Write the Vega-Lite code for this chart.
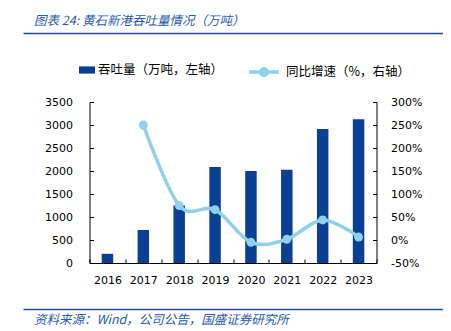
{
  "$schema": "https://vega.github.io/schema/vega-lite/v6.json",
  "padding": {"left": 23, "top": 14, "right": 0, "bottom": 0},
  "background": "white",
  "bounds": "flush",
  "center": true,
  "spacing": 46,
  "config": {
    "font": "DejaVu Sans",
    "view": {"stroke": null},
    "axis": {"labelFont": "DejaVu Sans", "labelFontSize": 11, "labelColor": "#000000", "domainColor": "#000000", "tickColor": "#000000", "grid": false, "title": null}
  },
  "datasets": {
    "port": [
      {"year": "2016", "volume": 200, "growth": null},
      {"year": "2017", "volume": 717, "growth": 250},
      {"year": "2018", "volume": 1254, "growth": 75},
      {"year": "2019", "volume": 2087, "growth": 66},
      {"year": "2020", "volume": 2000, "growth": -5},
      {"year": "2021", "volume": 2028, "growth": 1.5},
      {"year": "2022", "volume": 2913, "growth": 43.6},
      {"year": "2023", "volume": 3124, "growth": 6.5}
    ]
  },
  "vconcat": [
    {
      "width": 420,
      "height": 23,
      "title": {"text": "图表 24: 黄石新港吞吐量情况（万吨）", "anchor": "start", "dx": 11, "offset": 6, "font": "Noto Sans CJK SC", "fontStyle": "italic", "fontSize": 12.5, "fontWeight": "normal", "color": "#2a5aa8"},
      "data": {"values": [{"v": 0}]},
      "mark": {"type": "point", "opacity": 0},
      "encoding": {"x": {"field": "v", "type": "quantitative", "axis": {"orient": "top", "domainColor": "#1f4e96", "domainWidth": 1.5, "ticks": false, "labels": false, "title": null}}}
    },
    {
      "width": 287,
      "height": 161,
      "data": {"name": "port"},
      "encoding": {
        "x": {"field": "year", "type": "ordinal", "scale": {"paddingInner": 0, "paddingOuter": 0},
              "axis": {"labelAngle": 0, "tickBand": "extent", "tickSize": -4, "labelPadding": 15}}
      },
      "layer": [
        {
          "mark": {"type": "bar", "width": {"band": 0.32}},
          "encoding": {
            "y": {"field": "volume", "type": "quantitative", "scale": {"domain": [0, 3500], "nice": false},
                  "axis": {"orient": "left", "values": [0, 500, 1000, 1500, 2000, 2500, 3000, 3500], "format": "d", "labelOverlap": false, "tickSize": -4, "labelPadding": 21}},
            "fill": {"datum": "吞吐量（万吨，左轴）", "scale": {"range": ["#0a3f94"]},
                     "legend": {"orient": "none", "legendX": 56, "legendY": 29, "title": null, "symbolType": "M-1,-0.45H1V0.45H-1Z", "symbolSize": 256, "symbolStrokeWidth": 0, "labelFont": "Noto Sans CJK SC", "labelFontSize": 12.5, "labelColor": "#000000", "labelOffset": 3}}
          }
        },
        {
          "transform": [{"filter": "datum.growth != null"}],
          "encoding": {
            "y": {"field": "growth", "type": "quantitative", "scale": {"domain": [-50, 300], "nice": false},
                  "axis": {"orient": "right", "values": [-50, 0, 50, 100, 150, 200, 250, 300], "labelExpr": "datum.value + '%'", "labelOverlap": false, "labelBound": false, "tickSize": -4, "labelPadding": 18}}
          },
          "layer": [
            {
              "mark": {"type": "line", "interpolate": "cardinal", "strokeWidth": 3.5},
              "encoding": {
                "stroke": {"datum": "同比增速（%，右轴）", "scale": {"range": ["#8fd0ea"]},
                           "legend": {"orient": "none", "legendX": 224, "legendY": 22, "title": null, "symbolType": "M-1,0H1M-0.22,0A0.22,0.22,0,1,1,0.22,0A0.22,0.22,0,1,1,-0.22,0Z", "symbolSize": 900, "symbolStrokeWidth": 3.5, "symbolFillColor": "#8fd0ea", "labelFont": "Noto Sans CJK SC", "labelFontSize": 12.5, "labelColor": "#000000", "labelOffset": 5,
                                      "encode": {"symbols": {"update": {"fill": {"value": "#8fd0ea"}, "strokeWidth": {"value": 3.5}}}}}}
              }
            },
            {
              "mark": {"type": "circle", "size": 80, "opacity": 1, "color": "#8fd0ea"}
            }
          ]
        }
      ],
      "resolve": {"scale": {"y": "independent"}}
    },
    {
      "width": 420,
      "height": 1,
      "title": {"text": "资料来源：Wind，公司公告，国盛证券研究所", "orient": "bottom", "anchor": "start", "dx": 11, "offset": 2, "font": "Noto Sans CJK SC", "fontStyle": "italic", "fontSize": 12.5, "fontWeight": "normal", "color": "#2a5aa8"},
      "data": {"values": [{"v": 0}]},
      "mark": {"type": "point", "opacity": 0},
      "encoding": {"x": {"field": "v", "type": "quantitative", "axis": {"orient": "top", "domainColor": "#1f4e96", "domainWidth": 1.5, "ticks": false, "labels": false, "title": null}}}
    }
  ]
}
